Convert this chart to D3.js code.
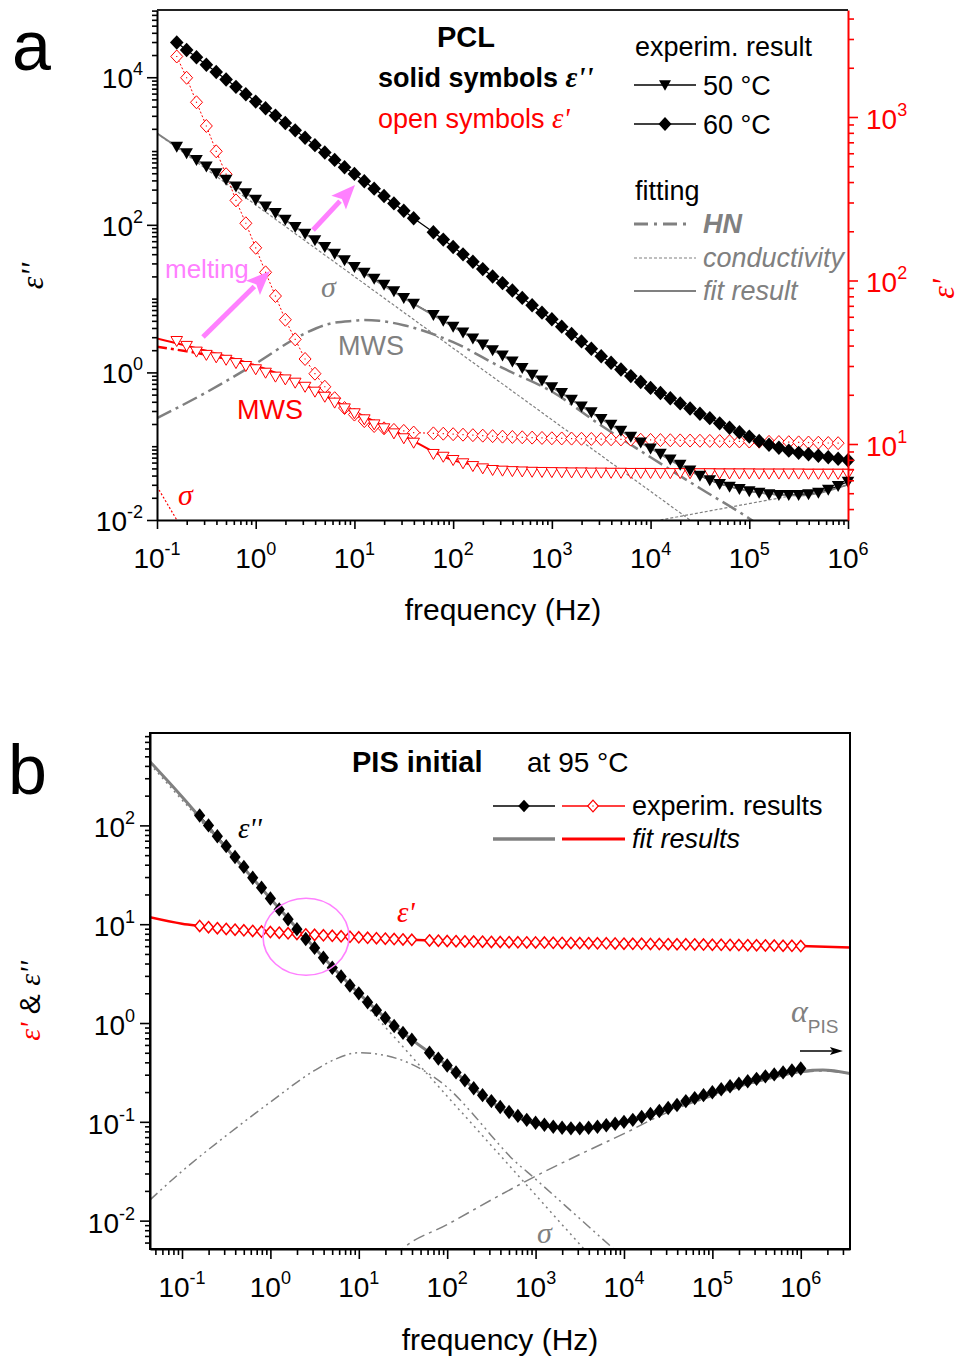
<!DOCTYPE html>
<html>
<head>
<meta charset="utf-8">
<script src="https://cdn.jsdelivr.net/npm/d3@7/dist/d3.min.js"></script>
<style>
html,body{margin:0;padding:0;background:#fff;}
svg{display:block;}
text{font-family:"Liberation Sans", Arial, sans-serif;}
.serif{font-family:"Liberation Serif","Times New Roman",serif;font-style:italic;}
</style>
</head>
<body>
<svg id="chart" width="960" height="1359" xmlns="http://www.w3.org/2000/svg"></svg>
<script>
// ===================== DATA =====================
// Panel a (PCL): log10 of frequency (Hz); gap at 10^1.7 in the measurement
const logFreqA = [-0.8,-0.7,-0.6,-0.5,-0.4,-0.3,-0.2,-0.1,0.0,0.1,0.2,0.3,0.4,0.5,0.6,0.7,0.8,0.9,1.0,1.1,1.2,1.3,1.4,1.5,1.6,
  1.8,1.9,2.0,2.1,2.2,2.3,2.4,2.5,2.6,2.7,2.8,2.9,3.0,3.1,3.2,3.3,3.4,3.5,3.6,3.7,3.8,3.9,4.0,4.1,4.2,4.3,4.4,4.5,4.6,4.7,4.8,4.9,5.0,5.1,5.2,5.3,5.4,5.5,5.6,5.7,5.8,5.9,6.0];
// log10 eps'' (left axis)
const logEps2_60C = [4.47,4.37,4.27,4.17,4.07,3.97,3.87,3.77,3.67,3.58,3.48,3.38,3.28,3.18,3.08,2.98,2.88,2.78,2.69,2.59,2.49,2.39,2.29,2.19,2.09,
  1.90,1.80,1.70,1.60,1.50,1.40,1.30,1.21,1.11,1.01,0.91,0.81,0.72,0.62,0.52,0.42,0.32,0.22,0.13,0.04,-0.05,-0.13,-0.21,-0.28,-0.35,-0.42,-0.49,-0.56,-0.62,-0.69,-0.75,-0.81,-0.87,-0.93,-0.98,-1.02,-1.06,-1.09,-1.11,-1.13,-1.15,-1.17,-1.19];
const logEps2_50C = [3.06,2.97,2.88,2.79,2.70,2.61,2.52,2.43,2.34,2.25,2.16,2.07,1.97,1.88,1.79,1.70,1.61,1.52,1.43,1.35,1.27,1.19,1.10,1.01,0.93,
  0.78,0.70,0.62,0.54,0.46,0.38,0.30,0.23,0.15,0.06,-0.03,-0.11,-0.20,-0.28,-0.37,-0.46,-0.54,-0.63,-0.71,-0.79,-0.87,-0.95,-1.03,-1.10,-1.18,-1.25,-1.33,-1.40,-1.46,-1.51,-1.55,-1.58,-1.61,-1.63,-1.65,-1.66,-1.66,-1.66,-1.65,-1.63,-1.59,-1.54,-1.48];
// log10 eps' (right axis)
const logEps1_60C = [3.37,3.24,3.09,2.945,2.79,2.65,2.49,2.35,2.20,2.05,1.905,1.76,1.64,1.52,1.43,1.35,1.28,1.22,1.18,1.14,1.11,1.096,1.086,1.08,1.07,
  1.065,1.063,1.06,1.057,1.054,1.051,1.048,1.045,1.043,1.041,1.039,1.037,1.035,1.034,1.033,1.032,1.031,1.030,1.029,1.028,1.027,1.026,1.025,1.024,1.023,1.022,1.021,1.020,1.019,1.018,1.017,1.016,1.015,1.014,1.013,1.012,1.011,1.010,1.009,1.008,1.006,1.005,null];
const logEps1_50C = [1.63,1.60,1.565,1.545,1.53,1.515,1.495,1.477,1.457,1.436,1.412,1.395,1.375,1.35,1.32,1.289,1.253,1.218,1.188,1.151,1.12,1.096,1.065,1.035,1.008,
  0.939,0.922,0.902,0.882,0.865,0.851,0.841,0.837,0.834,0.832,0.830,0.829,0.828,0.827,0.826,0.826,0.825,0.825,0.824,0.824,0.823,0.823,0.823,0.822,0.822,0.822,0.821,0.821,0.821,0.820,0.820,0.820,0.820,0.819,0.819,0.819,0.819,0.819,0.818,0.818,0.818,0.818,0.818];
// fitting curves panel a (log10 f, log10 value)
const fitA50_logF   = [-1.0,-0.5,0.0,0.5,1.0,1.5,2.0,2.5,3.0,3.5,4.0,4.5,5.0,5.5,6.0];
const fitA50_logEps = [3.24,2.79,2.34,1.88,1.43,1.01,0.62,0.23,-0.20,-0.63,-1.03,-1.40,-1.61,-1.67,-1.52];
const condA_logF    = [-1.0,4.4];
const condA_logEps  = [3.24,-2.0];
const condHiA_logF  = [4.1,6.0];
const condHiA_logEps= [-2.0,-1.53];
const hnA_logF      = [-1.0,-0.5,0.0,0.5,0.75,1.0,1.1,1.25,1.5,2.0,2.5,3.0,3.5,4.0,4.5,5.0,5.1];
const hnA_logEps    = [-0.62,-0.27,0.12,0.53,0.66,0.70,0.71,0.70,0.64,0.41,0.06,-0.26,-0.72,-1.15,-1.57,-1.98,-2.07];
const fitA1_logF    = [-1.0,-0.5,0.0,0.5,1.0,1.5,2.0,2.5,3.0,4.0,5.0,6.0];
const fitA1_logEps  = [1.646,1.57,1.48,1.36,1.20,1.05,0.90,0.855,0.848,0.845,0.843,0.842];
const hnA1_logF     = [-1.0,-0.7,-0.4,0.0];
const hnA1_logEps   = [1.595,1.567,1.535,1.47];
const condA1_logF   = [-1.0,-0.75];
const condA1_logEps = [0.74,0.485];

// Panel b (PIS initial at 95 C)
const logFreqB = [-0.8,-0.7,-0.6,-0.5,-0.4,-0.3,-0.2,-0.1,0.0,0.1,0.2,0.3,0.4,0.5,0.6,0.7,0.8,0.9,1.0,1.1,1.2,1.3,1.4,1.5,1.6,
  1.8,1.9,2.0,2.1,2.2,2.3,2.4,2.5,2.6,2.7,2.8,2.9,3.0,3.1,3.2,3.3,3.4,3.5,3.6,3.7,3.8,3.9,4.0,4.1,4.2,4.3,4.4,4.5,4.6,4.7,4.8,4.9,5.0,5.1,5.2,5.3,5.4,5.5,5.6,5.7,5.8,5.9,6.0];
const logEps2_B = [2.10,2.00,1.89,1.79,1.68,1.58,1.47,1.37,1.26,1.15,1.05,0.95,0.85,0.76,0.66,0.56,0.47,0.38,0.30,0.21,0.13,0.05,-0.03,-0.10,-0.17,
  -0.30,-0.36,-0.43,-0.50,-0.58,-0.66,-0.73,-0.79,-0.85,-0.90,-0.94,-0.98,-1.01,-1.03,-1.05,-1.06,-1.066,-1.066,-1.06,-1.05,-1.035,-1.02,-1.00,-0.98,-0.95,-0.92,-0.89,-0.86,-0.83,-0.79,-0.76,-0.73,-0.70,-0.67,-0.64,-0.615,-0.59,-0.565,-0.54,-0.52,-0.50,-0.48,-0.46];
const logEps1_B = [0.982,0.970,0.960,0.952,0.945,0.938,0.932,0.926,0.920,0.914,0.908,0.902,0.897,0.892,0.887,0.882,0.877,0.872,0.867,0.862,0.858,0.854,0.850,0.846,0.842,
  0.836,0.833,0.830,0.828,0.826,0.824,0.823,0.821,0.820,0.818,0.817,0.816,0.815,0.814,0.812,0.811,0.810,0.809,0.808,0.807,0.806,0.805,0.803,0.802,0.801,0.800,0.799,0.798,0.797,0.796,0.795,0.794,0.792,0.791,0.790,0.789,0.788,0.787,0.785,0.784,0.782,0.781,0.779];
const fitB2_logF   = [-1.362,-1.0,-0.5,0.0,0.5,1.0,1.5,2.0,2.5,3.0,3.5,4.0,4.5,5.0,5.5,6.0,6.25,6.557];
const fitB2_logEps = [2.645,2.29,1.77,1.26,0.76,0.30,-0.10,-0.43,-0.80,-1.02,-1.075,-1.01,-0.87,-0.72,-0.59,-0.49,-0.475,-0.51];
const fitB1_logF   = [-1.362,-1.0,-0.8,-0.5,0.0,0.5,1.0,1.5,2.0,3.0,4.0,5.0,6.0,6.557];
const fitB1_logEps = [1.07,1.005,0.982,0.952,0.92,0.892,0.867,0.846,0.830,0.815,0.803,0.792,0.779,0.765];
const condB_logF   = [-1.362,3.7];
const condB_logEps = [2.62,-2.44];
const mwsB_logF    = [-1.362,-1.0,-0.5,0.0,0.5,0.75,1.0,1.25,1.5,1.75,2.0,2.3,2.5,2.71,3.0,3.5,3.9];
const mwsB_logEps  = [-1.79,-1.50,-1.14,-0.80,-0.48,-0.36,-0.30,-0.32,-0.38,-0.49,-0.65,-0.93,-1.14,-1.35,-1.58,-1.98,-2.30];
const pisB_logF    = [1.4,1.5,2.0,2.5,3.0,3.5,4.0,4.5,5.0,5.5,6.0,6.25,6.557];
const pisB_logEps  = [-2.36,-2.28,-2.04,-1.79,-1.55,-1.33,-1.12,-0.90,-0.74,-0.60,-0.50,-0.485,-0.515];

// tick label exponents
const aXTickExp  = [-1,0,1,2,3,4,5,6];
const aYLTickExp = [-2,0,2,4];
const aYRTickExp = [1,2,3];
const bXTickExp  = [-1,0,1,2,3,4,5,6];
const bYTickExp  = [-2,-1,0,1,2];

// ===================== DRAWING =====================
const RED = "#ff0000", GRAY = "#808080", PINK = "#ff80ff";
const P = v => Math.pow(10, v);
const svg = d3.select("#chart");

const xa  = d3.scaleLog().domain([1e-1, 1e6]).range([157, 848]);
const yaL = d3.scaleLog().domain([1e-2, 8.15e4]).range([520, 10]);
const yaR = d3.scaleLog().domain([3.429, 4512]).range([520, 10]);
const xb  = d3.scaleLog().domain([P(-1.362), P(6.557)]).range([150, 850]);
const yb  = d3.scaleLog().domain([P(-2.287), P(2.935)]).range([1249, 733]);

const defs = svg.append("defs");
defs.append("clipPath").attr("id","clipA").append("rect").attr("x",157).attr("y",10).attr("width",691).attr("height",510);
defs.append("clipPath").attr("id","clipB").append("rect").attr("x",150).attr("y",733).attr("width",700).attr("height",516);

function pairs(lf, vals){ return lf.map((f,i)=>[f, vals[i]]).filter(d=>d[1]!==null && d[1]!==undefined); }
function pathLine(g, xs, ys, data, opts){
  const gen = d3.line().x(d=>xs(P(d[0]))).y(d=>ys(P(d[1]))).curve(opts.curve || d3.curveLinear);
  return g.append("path").attr("d", gen(data)).attr("fill","none")
    .attr("stroke", opts.color).attr("stroke-width", opts.width)
    .attr("stroke-dasharray", opts.dash || null).attr("stroke-linecap", opts.cap || "butt");
}
const diamondD = (w,h)=>`M0,${-h}L${w},0L0,${h}L${-w},0Z`;
const triDownD = (w,h)=>`M${-w},${-h*0.45}L${w},${-h*0.45}L0,${h*0.55}Z`;
function markers(g, xs, ys, data, d, fill, stroke, sw){
  g.selectAll(null).data(data).join("path")
    .attr("transform", p=>`translate(${xs(P(p[0]))},${ys(P(p[1]))})`)
    .attr("d", d).attr("fill", fill).attr("stroke", stroke || "none").attr("stroke-width", sw || 0);
}
function minorTicks(dom, includeDecades){
  const out=[]; const lo=Math.floor(Math.log10(dom[0])), hi=Math.ceil(Math.log10(dom[1]));
  for(let n=lo;n<=hi;n++){
    for(let m=(includeDecades?1:2);m<=9;m++){ const v=m*Math.pow(10,n); if(v>=dom[0]*0.9999 && v<=dom[1]*1.0001) out.push(v); }
  }
  return out;
}
function axisPair(make, scale, majors, minors, majLen, minLen, color, transform){
  const gM = svg.append("g").attr("transform", transform)
    .call(make(scale).tickValues(majors).tickSize(majLen).tickSizeOuter(0).tickFormat(""));
  const gm = svg.append("g").attr("transform", transform)
    .call(make(scale).tickValues(minors).tickSize(minLen).tickSizeOuter(0).tickFormat(""));
  gm.select(".domain").remove();
  [gM, gm].forEach(g=>{
    g.selectAll("text").remove();
    g.selectAll(".tick line").attr("stroke", color).attr("stroke-width", 1.6);
    g.select(".domain").attr("stroke", color).attr("stroke-width", 2);
  });
}
function powLabel(x, y, e, anchor, color){
  const t = svg.append("text").attr("x", x).attr("y", y).attr("text-anchor", anchor)
    .attr("fill", color).style("font-size","28px");
  t.append("tspan").text("10");
  t.append("tspan").attr("dy", -13).style("font-size","18px").text(String(e));
}
function arrow(g, x1,y1,x2,y2,color,width,headLen,headW){
  const ang=Math.atan2(y2-y1,x2-x1);
  const bx=x2-headLen*Math.cos(ang), by=y2-headLen*Math.sin(ang);
  g.append("line").attr("x1",x1).attr("y1",y1).attr("x2",bx+2*Math.cos(ang)).attr("y2",by+2*Math.sin(ang))
    .attr("stroke",color).attr("stroke-width",width);
  const px=-Math.sin(ang)*headW/2, py=Math.cos(ang)*headW/2;
  const nx=x2-headLen*0.8*Math.cos(ang), ny=y2-headLen*0.8*Math.sin(ang);
  g.append("path").attr("d",`M${x2},${y2}L${bx+px},${by+py}L${nx},${ny}L${bx-px},${by-py}Z`).attr("fill",color);
}

// ---------- PANEL A ----------
const gA = svg.append("g").attr("clip-path","url(#clipA)");
pathLine(gA, xa, yaL, pairs(hnA_logF, hnA_logEps), {color:GRAY, width:2.5, dash:"16,5,3,5", curve:d3.curveMonotoneX});
pathLine(gA, xa, yaL, pairs(condA_logF, condA_logEps), {color:GRAY, width:1.2, dash:"3,2"});
pathLine(gA, xa, yaL, pairs(condHiA_logF, condHiA_logEps), {color:GRAY, width:1.2, dash:"3,2"});
pathLine(gA, xa, yaR, pairs(condA1_logF, condA1_logEps), {color:RED, width:1.2, dash:"2,2"});
pathLine(gA, xa, yaR, pairs(hnA1_logF, hnA1_logEps), {color:RED, width:2.5, dash:"10,4,3,4", curve:d3.curveMonotoneX});
const e2_60 = pairs(logFreqA, logEps2_60C), e2_50 = pairs(logFreqA, logEps2_50C);
const e1_60 = pairs(logFreqA, logEps1_60C), e1_50 = pairs(logFreqA, logEps1_50C);
pathLine(gA, xa, yaR, e1_60, {color:RED, width:1, dash:"2,2"});
pathLine(gA, xa, yaL, e2_60, {color:"#000", width:1.2});
pathLine(gA, xa, yaL, e2_50, {color:"#000", width:1.2});
const gMA = svg.append("g");
markers(gMA, xa, yaR, e1_60, diamondD(6,6.5), "#fff", RED, 1);
markers(gMA, xa, yaR, e1_60, "M-0.6,-0.6h1.2v1.2h-1.2Z", RED);
markers(gMA, xa, yaR, e1_50, triDownD(5.8,10), "#fff", RED, 1);
markers(gMA, xa, yaL, e2_50, triDownD(6.3,11), "#000");
markers(gMA, xa, yaL, e2_60, diamondD(6.8,7.2), "#000");
pathLine(gA, xa, yaL, pairs(fitA50_logF, fitA50_logEps), {color:GRAY, width:1.8, curve:d3.curveMonotoneX});
pathLine(gA, xa, yaR, pairs(fitA1_logF, fitA1_logEps), {color:RED, width:2, curve:d3.curveMonotoneX});

axisPair(d3.axisLeft, yaL, aYLTickExp.map(P), minorTicks(yaL.domain(), true).filter(v=>!aYLTickExp.map(P).some(m=>Math.abs(m-v)/m<1e-6)), 10, 5, "#000", "translate(157,0)");
axisPair(d3.axisBottom, xa, aXTickExp.map(P), minorTicks(xa.domain(), false), 9, 5, "#000", "translate(0,520)");
axisPair(d3.axisRight, yaR, aYRTickExp.map(P), minorTicks(yaR.domain(), false), 10, 6, RED, "translate(848,0)");
svg.append("line").attr("x1",157).attr("y1",10).attr("x2",848).attr("y2",10).attr("stroke","#222").attr("stroke-width",2);
aXTickExp.forEach(e=>powLabel(xa(P(e)), 568, e, "middle", "#000"));
aYLTickExp.forEach(e=>powLabel(143, yaL(P(e))+11, e, "end", "#000"));
aYRTickExp.forEach(e=>powLabel(866, yaR(P(e))+12, e, "start", RED));

svg.append("text").attr("x",503).attr("y",620).attr("text-anchor","middle").style("font-size","30px").text("frequency (Hz)");
svg.append("text").attr("class","serif").attr("transform","translate(43,276) rotate(-90)").attr("text-anchor","middle").style("font-size","32px").text("\u03b5''");
svg.append("text").attr("class","serif").attr("transform","translate(954,289) rotate(-90)").attr("text-anchor","middle").attr("fill",RED).style("font-size","32px").text("\u03b5'");
svg.append("text").attr("x",12).attr("y",70).style("font-size","70px").text("a");

svg.append("text").attr("x",466).attr("y",47).attr("text-anchor","middle").style("font-size","29px").style("font-weight","bold").text("PCL");
{ const t = svg.append("text").attr("x",378).attr("y",87).style("font-size","27px").style("font-weight","bold");
  t.append("tspan").text("solid symbols ");
  t.append("tspan").attr("class","serif").style("font-size","29px").text("\u03b5''"); }
{ const t = svg.append("text").attr("x",378).attr("y",128).style("font-size","27px").attr("fill",RED);
  t.append("tspan").text("open symbols ");
  t.append("tspan").attr("class","serif").style("font-size","29px").text("\u03b5'"); }
svg.append("text").attr("x",635).attr("y",56).style("font-size","27px").text("experim. result");
svg.append("line").attr("x1",634).attr("x2",696).attr("y1",85).attr("y2",85).attr("stroke","#000").attr("stroke-width",1.5);
svg.append("path").attr("transform","translate(665,85)").attr("d",triDownD(6,10.5)).attr("fill","#000");
svg.append("text").attr("x",703).attr("y",95).style("font-size","27px").text("50 \u00b0C");
svg.append("line").attr("x1",634).attr("x2",696).attr("y1",124).attr("y2",124).attr("stroke","#000").attr("stroke-width",1.5);
svg.append("path").attr("transform","translate(665,124)").attr("d",diamondD(6.5,7)).attr("fill","#000");
svg.append("text").attr("x",703).attr("y",134).style("font-size","27px").text("60 \u00b0C");
svg.append("text").attr("x",635).attr("y",200).style("font-size","27px").text("fitting");
svg.append("line").attr("x1",634).attr("x2",692).attr("y1",224).attr("y2",224).attr("stroke",GRAY).attr("stroke-width",3).attr("stroke-dasharray","14,6,3,6");
svg.append("text").attr("x",703).attr("y",233).style("font-size","27px").style("font-weight","bold").style("font-style","italic").attr("fill",GRAY).text("HN");
svg.append("line").attr("x1",634).attr("x2",696).attr("y1",258).attr("y2",258).attr("stroke",GRAY).attr("stroke-width",1.2).attr("stroke-dasharray","3,2");
svg.append("text").attr("x",703).attr("y",267).style("font-size","27px").style("font-style","italic").attr("fill",GRAY).text("conductivity");
svg.append("line").attr("x1",634).attr("x2",696).attr("y1",291).attr("y2",291).attr("stroke",GRAY).attr("stroke-width",2);
svg.append("text").attr("x",703).attr("y",300).style("font-size","27px").style("font-style","italic").attr("fill",GRAY).text("fit result");

svg.append("text").attr("x",xa(P(-0.919))).attr("y",yaL(P(1.279))).style("font-size","26px").attr("fill",PINK).text("melting");
svg.append("text").attr("class","serif").attr("x",xa(P(0.662))).attr("y",yaL(P(1.022))).style("font-size","30px").attr("fill",GRAY).text("\u03c3");
svg.append("text").attr("x",xa(P(0.834))).attr("y",yaL(P(0.236))).style("font-size","27px").attr("fill",GRAY).text("MWS");
svg.append("text").attr("x",xa(P(-0.189))).attr("y",yaL(P(-0.631))).style("font-size","27px").attr("fill",RED).text("MWS");
svg.append("text").attr("class","serif").attr("x",xa(P(-0.787))).attr("y",yaL(P(-1.797))).style("font-size","30px").attr("fill",RED).text("\u03c3");
arrow(svg, xa(P(-0.534)), yaL(P(0.48)), xa(P(0.145)), yaL(P(1.374)), PINK, 5, 24, 20);
arrow(svg, xa(P(0.581)), yaL(P(1.93)), xa(P(1.006)), yaL(P(2.539)), PINK, 5, 24, 20);

// ---------- PANEL B ----------
const gB = svg.append("g").attr("clip-path","url(#clipB)");
pathLine(gB, xb, yb, pairs(mwsB_logF, mwsB_logEps), {color:GRAY, width:1.5, dash:"10,4,2,4,2,4", curve:d3.curveMonotoneX});
pathLine(gB, xb, yb, pairs(condB_logF, condB_logEps), {color:GRAY, width:1.5, dash:"2,4"});
pathLine(gB, xb, yb, pairs(pisB_logF, pisB_logEps), {color:GRAY, width:1.5, dash:"12,5,3,5", curve:d3.curveMonotoneX});
const b2 = pairs(logFreqB, logEps2_B), b1 = pairs(logFreqB, logEps1_B);
pathLine(gB, xb, yb, b1, {color:RED, width:1});
pathLine(gB, xb, yb, b2, {color:"#000", width:1});
const gMB = svg.append("g");
markers(gMB, xb, yb, b1, diamondD(4.8,5.6), "#fff", RED, 1.5);
markers(gMB, xb, yb, b2, diamondD(5.6,7.2), "#000");
pathLine(gB, xb, yb, pairs(fitB2_logF, fitB2_logEps), {color:GRAY, width:3, curve:d3.curveMonotoneX});
pathLine(gB, xb, yb, pairs(fitB1_logF, fitB1_logEps), {color:RED, width:2.5, curve:d3.curveMonotoneX});

svg.append("ellipse").attr("cx",xb(P(0.403))).attr("cy",yb(P(0.873))).attr("rx",43).attr("ry",38.5)
  .attr("fill","none").attr("stroke",PINK).attr("stroke-width",1.6);

axisPair(d3.axisLeft, yb, bYTickExp.map(P), minorTicks(yb.domain(), false), 10, 5, "#000", "translate(150,0)");
axisPair(d3.axisBottom, xb, bXTickExp.map(P), minorTicks(xb.domain(), false), 10, 6, "#000", "translate(0,1249)");
svg.append("rect").attr("x",150).attr("y",733).attr("width",700).attr("height",516).attr("fill","none").attr("stroke","#000").attr("stroke-width",2);
bXTickExp.forEach(e=>powLabel(xb(P(e)), 1297, e, "middle", "#000"));
bYTickExp.forEach(e=>powLabel(135, yb(P(e))+12, e, "end", "#000"));
svg.append("text").attr("x",500).attr("y",1350).attr("text-anchor","middle").style("font-size","30px").text("frequency (Hz)");
{ const t = svg.append("text").attr("transform","translate(40,1001) rotate(-90)").attr("text-anchor","middle").style("font-size","30px");
  t.append("tspan").attr("class","serif").attr("fill",RED).text("\u03b5'");
  t.append("tspan").attr("fill","#000").text(" & ");
  t.append("tspan").attr("class","serif").attr("fill","#000").text("\u03b5''"); }
svg.append("text").attr("x",8).attr("y",794).style("font-size","70px").text("b");

svg.append("text").attr("x",352).attr("y",772).style("font-size","29px").style("font-weight","bold").text("PIS initial");
svg.append("text").attr("x",527).attr("y",772).style("font-size","28px").text("at 95 \u00b0C");
svg.append("line").attr("x1",493).attr("x2",555).attr("y1",806).attr("y2",806).attr("stroke","#000").attr("stroke-width",1.3);
svg.append("path").attr("transform","translate(524,806)").attr("d",diamondD(5.8,6.3)).attr("fill","#000");
svg.append("line").attr("x1",562).attr("x2",625).attr("y1",806).attr("y2",806).attr("stroke",RED).attr("stroke-width",1.3);
svg.append("path").attr("transform","translate(593,806)").attr("d",diamondD(5.3,5.8)).attr("fill","#fff").attr("stroke",RED).attr("stroke-width",1.2);
svg.append("rect").attr("x",592.4).attr("y",805.4).attr("width",1.2).attr("height",1.2).attr("fill",RED);
svg.append("text").attr("x",632).attr("y",815).style("font-size","27px").text("experim. results");
svg.append("line").attr("x1",493).attr("x2",555).attr("y1",839).attr("y2",839).attr("stroke",GRAY).attr("stroke-width",3.5);
svg.append("line").attr("x1",562).attr("x2",625).attr("y1",839).attr("y2",839).attr("stroke",RED).attr("stroke-width",3);
svg.append("text").attr("x",632).attr("y",848).style("font-size","27px").style("font-style","italic").text("fit results");

svg.append("text").attr("class","serif").attr("x",xb(P(-0.367))).attr("y",yb(P(1.872))).style("font-size","29px").attr("fill","#000").text("\u03b5''");
svg.append("text").attr("class","serif").attr("x",xb(P(1.432))).attr("y",yb(P(1.022))).style("font-size","29px").attr("fill",RED).text("\u03b5'");
svg.append("text").attr("class","serif").attr("x",xb(P(3.016))).attr("y",yb(P(-2.227))).style("font-size","30px").attr("fill",GRAY).text("\u03c3");
{ const t = svg.append("text").attr("x",xb(P(5.889))).attr("y",yb(P(0.010))).attr("fill",GRAY);
  t.append("tspan").attr("class","serif").style("font-size","32px").text("\u03b1");
  t.append("tspan").attr("dy",11).style("font-size","19px").text("PIS"); }
arrow(svg, xb(P(5.991)), yb(P(-0.283)), xb(P(6.477)), yb(P(-0.283)), "#000", 1.5, 13, 8);
</script>
</body>
</html>
